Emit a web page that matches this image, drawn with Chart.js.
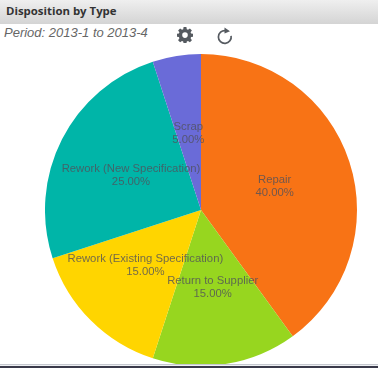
<!DOCTYPE html>
<html>
<head>
<meta charset="utf-8">
<title>Disposition by Type</title>
<script src="https://cdn.jsdelivr.net/npm/chart.js@4"></script>
<style>
  html, body { margin: 0; padding: 0; background: #fff; overflow: hidden; }
  #wrap { position: relative; width: 378px; height: 368px; overflow: hidden; }
  #header {
    position: absolute; left: 0; top: 0; width: 378px; height: 24px;
    background: linear-gradient(#efefef, #d4d4d4);
    font: bold 11.4px "Open Sans", sans-serif; color: #333; line-height: 22px;
    text-indent: 6px;
  }
  #period {
    position: absolute; left: 4px; top: 24px;
    font: italic 13px "Liberation Sans", sans-serif; color: #666; line-height: 17px;
  }
  #gear { position: absolute; left: 177px; top: 27px; }
  #reload { position: absolute; left: 216px; top: 27px; }
  #chart { position: absolute; left: 45px; top: 54px; }
  #footer {
    position: absolute; left: 0; top: 364px; width: 378px; height: 4px;
    background: linear-gradient(#c5c8cf 1px, #eef0f3 1px, #eef0f3 2px, #3a3a4a 2px);
  }
</style>
</head>
<body>
<div id="wrap">
  <canvas id="chart" width="312" height="312"></canvas>
  <div id="header">Disposition by Type</div>
  <div id="period">Period: 2013-1 to 2013-4</div>
  <svg id="gear" width="16" height="16" viewBox="0 0 16 16">
    <path fill="#555a60" fill-rule="evenodd" d="M6.6 0h2.8l.4 2.2 1.2.5L12.9 1.4l2 2-1.3 1.9.5 1.2 2.2.4v2.8l-2.2.4-.5 1.2 1.3 1.9-2 2-1.9-1.3-1.2.5-.4 2.2H6.6l-.4-2.2-1.2-.5-1.9 1.3-2-2 1.3-1.9-.5-1.2L-.3 9.7V6.9l2.2-.4.5-1.2L1.1 3.4l2-2L5 2.7l1.2-.5zM8 5.3a2.8 2.8 0 1 0 0 5.6 2.8 2.8 0 0 0 0-5.6z"/>
  </svg>
  <svg id="reload" width="18" height="18" viewBox="0 0 18 18">
    <path fill="none" stroke="#555a60" stroke-width="1.7" d="M9.5 3.6a6.4 6.4 0 1 0 5.6 5.2"/>
    <path fill="#555a60" d="M8.5 0.5l5.5 3.8-5.5 2.2z"/>
  </svg>
  <div id="footer"></div>
</div>
<script>
const categories = ["Repair", "Return to Supplier", "Rework (Existing Specification)", "Rework (New Specification)", "Scrap"];
const shares = [40, 15, 15, 25, 5];
const sliceColors = ["#F87315", "#97D61F", "#FFD500", "#00B5A8", "#6A6BD8"];

// writes name and percent in the middle of each slice
const sliceLabels = {
  id: "sliceLabels",
  afterDatasetsDraw(chart) {
    const ctx = chart.ctx;
    const arcs = chart.getDatasetMeta(0).data;
    ctx.save();
    ctx.font = '11.3px "Liberation Sans", sans-serif';
    ctx.fillStyle = "rgba(80,80,90,0.8)";
    ctx.textAlign = "center";
    ctx.textBaseline = "middle";
    arcs.forEach((arc, i) => {
      const pos = arc.tooltipPosition();
      ctx.fillText(categories[i], pos.x - 0.5, pos.y - 6);
      ctx.fillText(shares[i].toFixed(2) + "%", pos.x - 0.5, pos.y + 7);
    });
    ctx.restore();
  }
};

new Chart(document.getElementById("chart"), {
  type: "pie",
  data: {
    labels: categories,
    datasets: [{
      data: shares,
      backgroundColor: sliceColors,
      borderWidth: 0
    }]
  },
  options: {
    responsive: false,
    animation: false,
    layout: { padding: 0 },
    plugins: {
      legend: { display: false },
      tooltip: { enabled: false }
    }
  },
  plugins: [sliceLabels]
});
</script>
</body>
</html>
